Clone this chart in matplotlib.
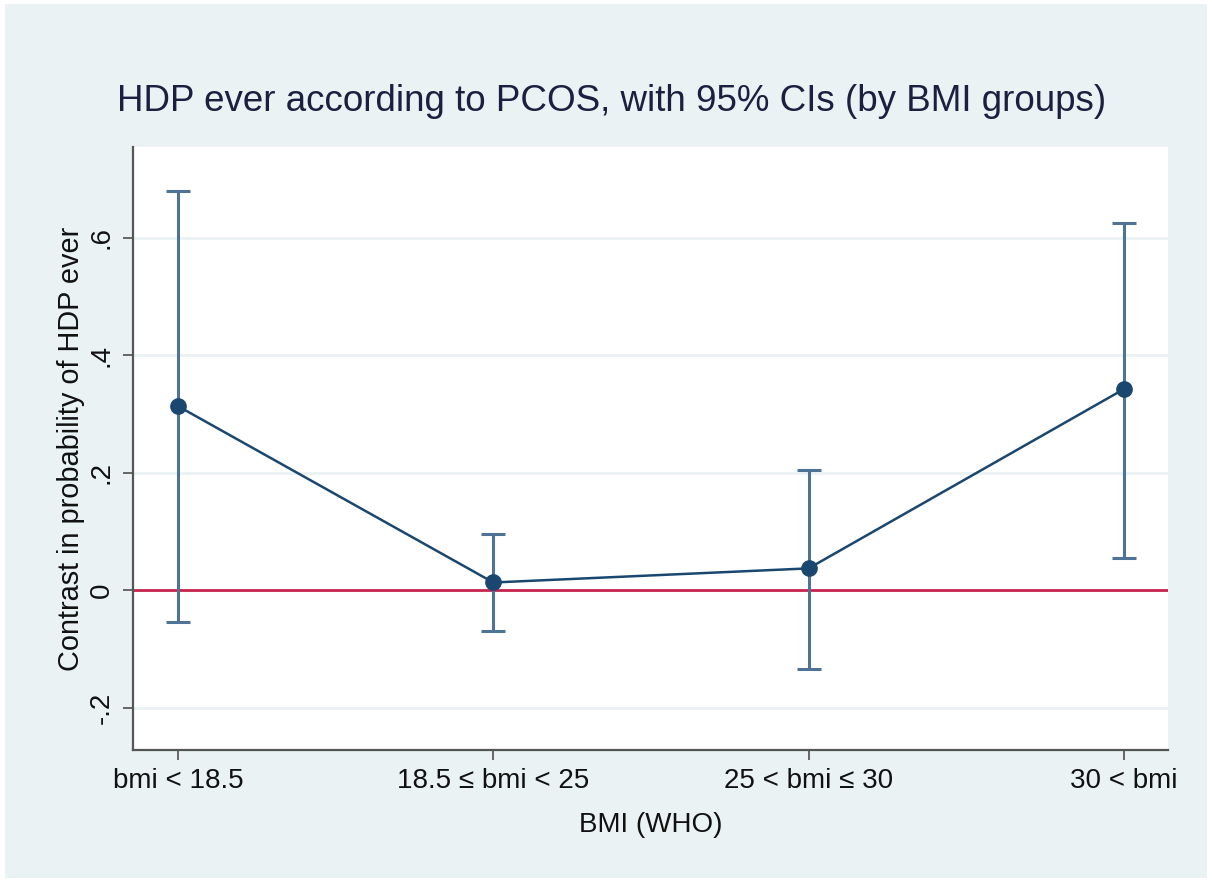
import numpy as np
import matplotlib
matplotlib.use('Agg')
import matplotlib.pyplot as plt
from matplotlib.patches import Rectangle

plt.rcParams['font.family'] = ['Liberation Sans', 'DejaVu Sans']

groups = ['bmi < 18.5', '18.5 ≤ bmi < 25', '25 < bmi ≤ 30', '30 < bmi']
contrast = [0.313, 0.013, 0.037, 0.342]
ci_low = [-0.054, -0.070, -0.135, 0.054]
ci_high = [0.679, 0.095, 0.204, 0.625]
yticks = [-0.2, 0, 0.2, 0.4, 0.6]
ytick_labels = ['-.2', '0', '.2', '.4', '.6']

bg = '#eaf2f3'
navy = '#1a476f'

fig = plt.figure(figsize=(12.12, 8.82), dpi=100, facecolor='white')
fig.patches.append(Rectangle((0.004, 0.004), 0.992, 0.992, transform=fig.transFigure,
                             facecolor=bg, edgecolor='none', zorder=-10))
ax = fig.add_axes([0.1097, 0.1497, 0.854, 0.6836])
ax.set_facecolor('white')

x = np.arange(1, len(groups) + 1)
c = np.array(contrast)
err = [c - np.array(ci_low), np.array(ci_high) - c]

for yv in yticks:
    ax.axhline(yv, color=bg, lw=2, zorder=0)
ax.axhline(0, color='#c8254d', lw=2, zorder=1)

ax.errorbar(x, c, yerr=err, fmt='none', ecolor='#4e7397', elinewidth=2.2,
            capsize=8.5, capthick=2.2, zorder=2)
ax.plot(x, c, color=navy, lw=1.8, marker='o', markersize=11, zorder=3)

ax.set_xlim(0.857, 4.14)
ax.set_ylim(-0.272, 0.754)
ax.set_xticks(x)
ax.set_xticklabels(groups, fontsize=20)
ax.set_yticks(yticks)
ax.set_yticklabels(ytick_labels, fontsize=20, rotation=90, va='center')

for s in ['top', 'right']:
    ax.spines[s].set_visible(False)
for s in ['left', 'bottom']:
    ax.spines[s].set_color('#555555')
    ax.spines[s].set_linewidth(1.6)
ax.tick_params(length=7, width=1.4, color='#666666', labelcolor='#111111', pad=6)

ax.set_xlabel('BMI (WHO)', fontsize=20, color='#111111', labelpad=13)
ax.set_ylabel('Contrast in probability of HDP ever', fontsize=20.8, color='#111111', labelpad=3)
fig.text(0.505, 0.885, 'HDP ever according to PCOS, with 95% CIs (by BMI groups)',
         ha='center', va='center', fontsize=26.5, color='#1c2040')

fig.savefig('out.png', dpi=100, facecolor=fig.get_facecolor())
